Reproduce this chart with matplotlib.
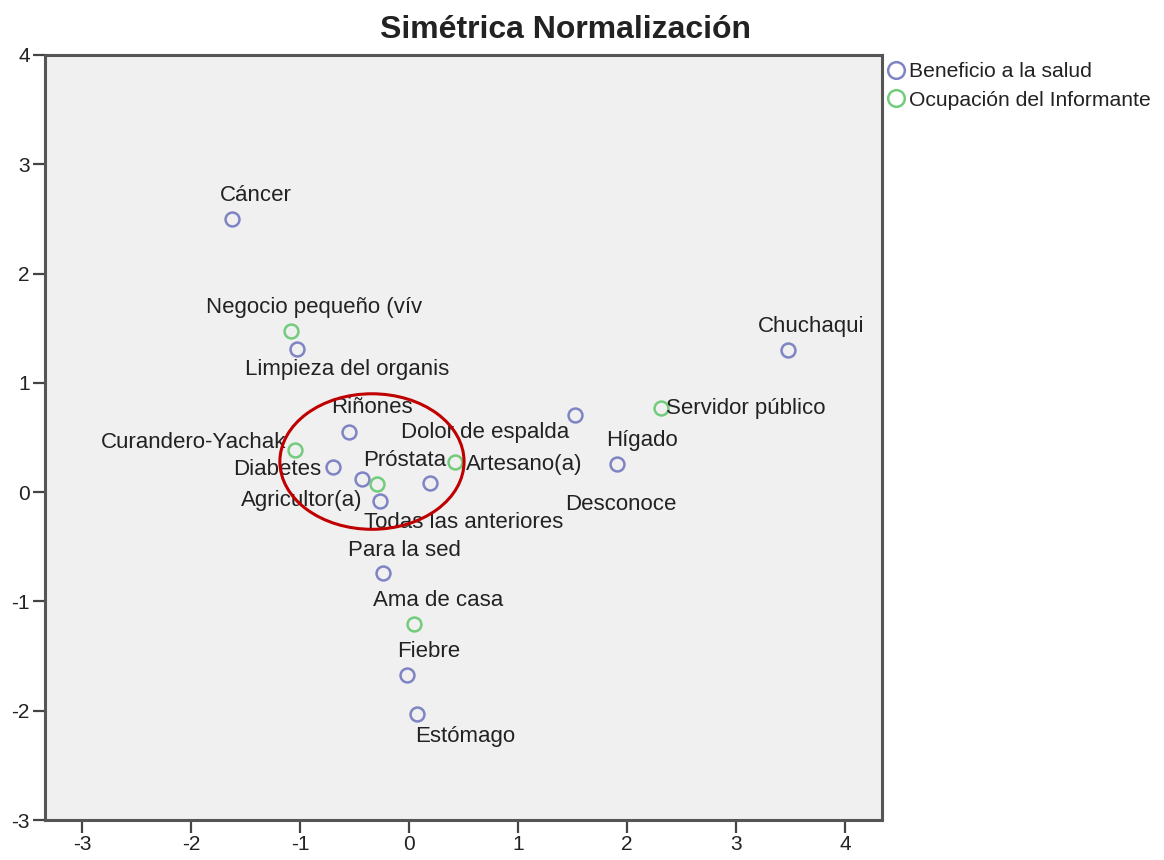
import numpy as np
import matplotlib
matplotlib.use("Agg")
import matplotlib.pyplot as plt
from matplotlib.lines import Line2D
from matplotlib.patches import Ellipse

plt.rcParams['font.family'] = ['Liberation Sans', 'DejaVu Sans']
plt.rcParams['axes.unicode_minus'] = False

# Beneficio a la salud (blue points)
benef_labels = ["Cáncer", "Limpieza del organis", "Chuchaqui", "Dolor de espalda",
                "Hígado", "Riñones", "Diabetes", "Próstata", "Desconoce",
                "Todas las anteriores", "Para la sed", "Fiebre", "Estómago"]
benef_x = [-1.62, -1.03, 3.48, 1.52, 1.91, -0.55, -0.70, -0.43, 0.19, -0.27, -0.24, -0.02, 0.07]
benef_y = [2.50, 1.31, 1.30, 0.71, 0.26, 0.55, 0.23, 0.12, 0.08, -0.08, -0.74, -1.67, -2.03]

# Ocupación del Informante (green points)
ocup_labels = ["Negocio pequeño (vív", "Curandero-Yachak", "Agricultor(a)",
               "Artesano(a)", "Servidor público", "Ama de casa"]
ocup_x = [-1.08, -1.05, -0.29, 0.42, 2.31, 0.05]
ocup_y = [1.47, 0.39, 0.07, 0.28, 0.77, -1.21]

x_ticks = [-3, -2, -1, 0, 1, 2, 3, 4]
y_ticks = [-3, -2, -1, 0, 1, 2, 3, 4]

# label placement: (dx, dy) in pixels, horizontal alignment
benef_off = [(23, 23, 'center'), (50, -21, 'center'), (23, 24, 'center'), (-90, -18, 'center'),
             (25, 23, 'center'), (23, 25, 'center'), (-11, -2, 'right'), (43, 19, 'center'),
             (191, -21, 'center'), (84, -22, 'center'), (22, 23, 'center'), (22, 23, 'center'),
             (49, -23, 'center')]
ocup_off = [(23, 24, 'center'), (-8, 7, 'right'), (-15, -16, 'right'),
            (11, -3, 'left'), (5, -1, 'left'), (24, 24, 'center')]

blue = '#7f84c4'
green = '#72cc7c'
txt = '#222222'

fig = plt.figure(figsize=(11.64, 8.6), dpi=100)
ax = fig.add_axes([45 / 1164, 1 - 820 / 860, (882 - 45) / 1164, (820 - 55) / 860])
ax.set_facecolor('#f0f0f0')

ax.plot(benef_x, benef_y, 'o', ms=10, mfc='none', mec=blue, mew=1.8, zorder=3)
ax.plot(ocup_x, ocup_y, 'o', ms=10, mfc='none', mec=green, mew=1.8, zorder=3)

for lab, x, y, (dx, dy, ha) in zip(benef_labels, benef_x, benef_y, benef_off):
    ax.annotate(lab, (x, y), xytext=(dx, dy), textcoords='offset pixels',
                ha=ha, va='center', fontsize=16, color=txt)
for lab, x, y, (dx, dy, ha) in zip(ocup_labels, ocup_x, ocup_y, ocup_off):
    ax.annotate(lab, (x, y), xytext=(dx, dy), textcoords='offset pixels',
                ha=ha, va='center', fontsize=16, color=txt)

# red circle drawn around the central cluster
ax.add_patch(Ellipse((-0.34, 0.28), 1.69, 1.24, fill=False, ec='#c00000', lw=2.2, zorder=4))

ax.set_xlim(-3.34, 4.34)
ax.set_ylim(-3, 4)
ax.set_xticks(x_ticks)
ax.set_yticks(y_ticks)
ax.tick_params(length=9, width=1.6, color='#444444', labelsize=15, labelcolor=txt, pad=2)
for s in ax.spines.values():
    s.set_linewidth(2.2)
    s.set_color('#555555')

fig.text(565 / 1164, 1 - 30 / 860, "Simétrica Normalización", ha='center', va='center',
         fontsize=23, fontweight='bold', color=txt)

handles = [Line2D([], [], ls='none', marker='o', ms=12, mfc='none', mec=blue, mew=1.8),
           Line2D([], [], ls='none', marker='o', ms=12, mfc='none', mec=green, mew=1.8)]
fig.legend(handles, ["Beneficio a la salud", "Ocupación del Informante"],
           loc='upper left', bbox_to_anchor=(885 / 1164, 1 - 62 / 860), frameon=False,
           fontsize=15.2, handlelength=1.0, handletextpad=0.15, labelspacing=0.45,
           borderpad=0, borderaxespad=0, labelcolor=txt)

fig.savefig("out.png", dpi=100, facecolor='white')
